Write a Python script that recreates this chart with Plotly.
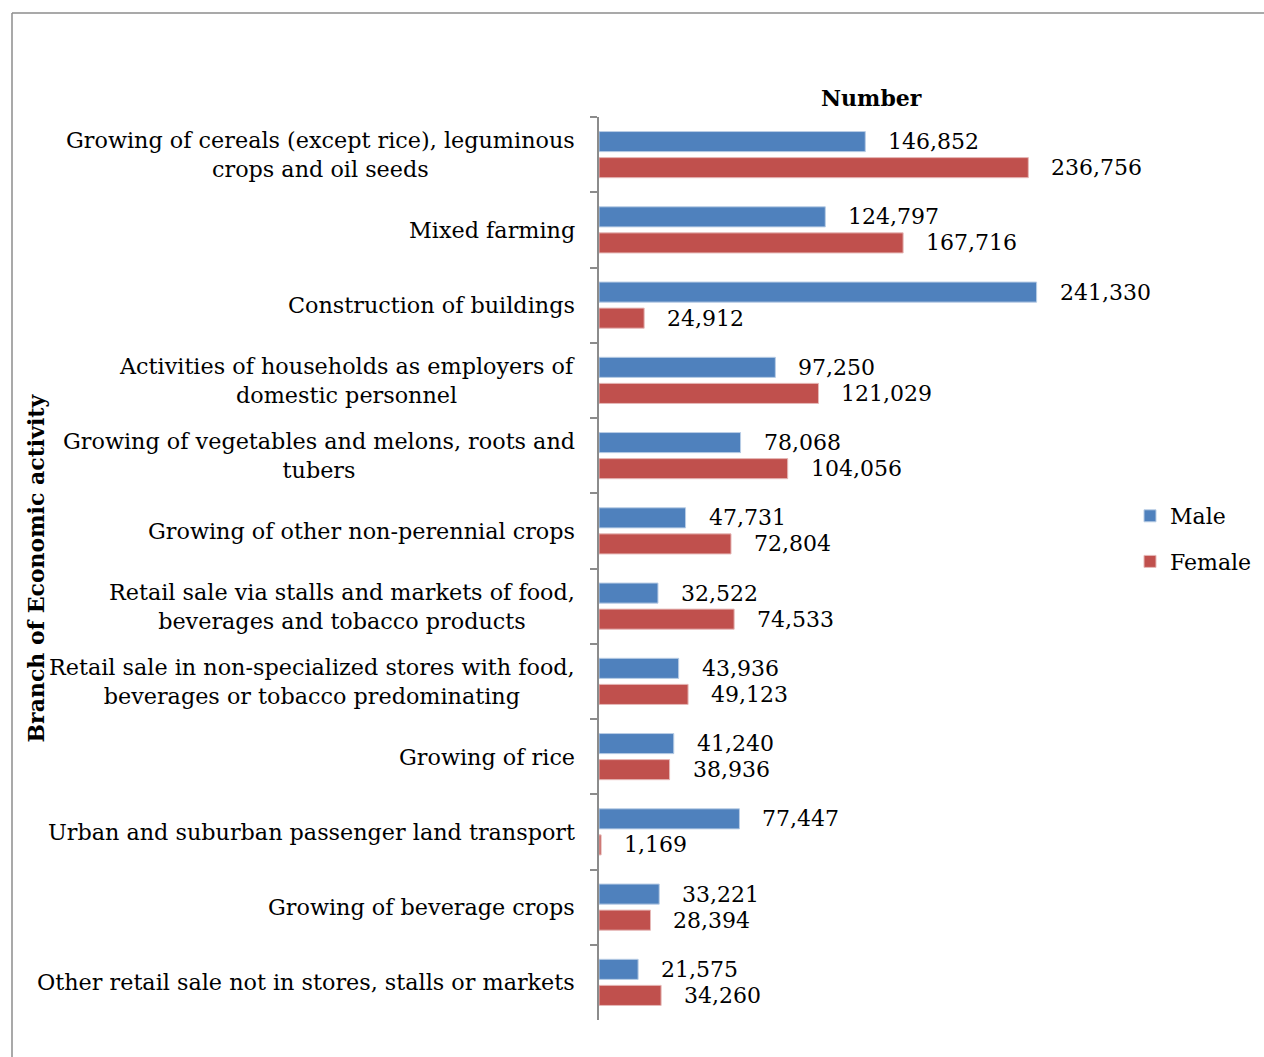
import plotly.graph_objects as go

# Employed persons by branch of economic activity and sex
categories = [
    "Growing of cereals (except rice), leguminous<br>crops and oil seeds",
    "Mixed farming",
    "Construction of buildings",
    "Activities of households as employers of<br>domestic personnel",
    "Growing of vegetables and melons, roots and<br>tubers",
    "Growing of other non-perennial crops",
    "Retail sale via stalls and markets of food,<br>beverages and tobacco products",
    "Retail sale in non-specialized stores with food,<br>beverages or tobacco predominating",
    "Growing of rice",
    "Urban and suburban passenger land transport",
    "Growing of beverage crops",
    "Other retail sale not in stores, stalls or markets",
]
male = [146852, 124797, 241330, 97250, 78068, 47731, 32522, 43936, 41240, 77447, 33221, 21575]
female = [236756, 167716, 24912, 121029, 104056, 72804, 74533, 49123, 38936, 1169, 28394, 34260]

FONT = "DejaVu Serif"
W, H = 1264, 1057
ML, MR, MT, MB = 599, 121, 117, 37
PW, PH = W - ML - MR, H - MT - MB


def px_x(px):
    return (px - ML) / PW


def px_y(py):
    return 1 - (py - MT) / PH


fig = go.Figure()
fig.add_trace(go.Bar(
    name="Male", y=categories, x=male, orientation="h",
    marker=dict(color="#4F81BD", line=dict(color="#B9CDE5", width=1)),
    legendgroup="m",
))
fig.add_trace(go.Bar(
    name="Female", y=categories, x=female, orientation="h",
    marker=dict(color="#C0504D", line=dict(color="#E6B9B8", width=1)),
    legendgroup="f",
))

annotations = []
label_font = dict(family=FONT, size=22, color="black")
for cat, m, f in zip(categories, male, female):
    # value labels beside each bar
    annotations.append(dict(x=m, y=cat, xref="x", yref="y", text=f"{m:,}",
                            showarrow=False, xanchor="left", xshift=21, yshift=13,
                            font=label_font))
    annotations.append(dict(x=f, y=cat, xref="x", yref="y", text=f"{f:,}",
                            showarrow=False, xanchor="left", xshift=21, yshift=-13,
                            font=label_font))
    # category labels, lines centred, right edge next to the axis
    annotations.append(dict(x=0, y=cat, xref="x", yref="y", text=cat,
                            showarrow=False, xanchor="right", xshift=-22, align="center",
                            font=dict(family=FONT, size=22.3, color="black")))

annotations.append(dict(x=0.5, y=px_y(98), xref="paper", yref="paper", text="<b>Number</b>",
                        showarrow=False, xanchor="center", yanchor="middle",
                        font=label_font))
annotations.append(dict(x=px_x(35), y=0.5, xref="paper", yref="paper",
                        text="<b>Branch of Economic activity</b>", textangle=-90,
                        showarrow=False, xanchor="center", yanchor="middle",
                        font=label_font))

shapes = [
    dict(type="line", xref="paper", yref="paper", x0=px_x(12), x1=px_x(1264),
         y0=px_y(13), y1=px_y(13), line=dict(color="#8C8C8C", width=1.5)),
    dict(type="line", xref="paper", yref="paper", x0=px_x(12), x1=px_x(12),
         y0=px_y(13), y1=px_y(1057), line=dict(color="#8C8C8C", width=1.5)),
]

fig.update_layout(
    width=W, height=H,
    margin=dict(l=ML, r=MR, t=MT, b=MB, autoexpand=False),
    paper_bgcolor="white", plot_bgcolor="white",
    barmode="group", bargap=0.307, bargroupgap=0.23,
    xaxis=dict(range=[0, 300000], visible=False, fixedrange=True),
    yaxis=dict(autorange="reversed", showticklabels=False, showline=True,
               linecolor="#8C8C8C", linewidth=2, ticks="outside", tickson="boundaries",
               ticklen=7, tickwidth=2, tickcolor="#8C8C8C", showgrid=False, zeroline=False),
    legend=dict(x=px_x(1130), y=px_y(495), xanchor="left", yanchor="top",
                font=label_font,
                traceorder="grouped", tracegroupgap=14, bgcolor="rgba(0,0,0,0)"),
    annotations=annotations,
    shapes=shapes,
    font=dict(family=FONT, color="black"),
)

fig.write_html("out.html")
